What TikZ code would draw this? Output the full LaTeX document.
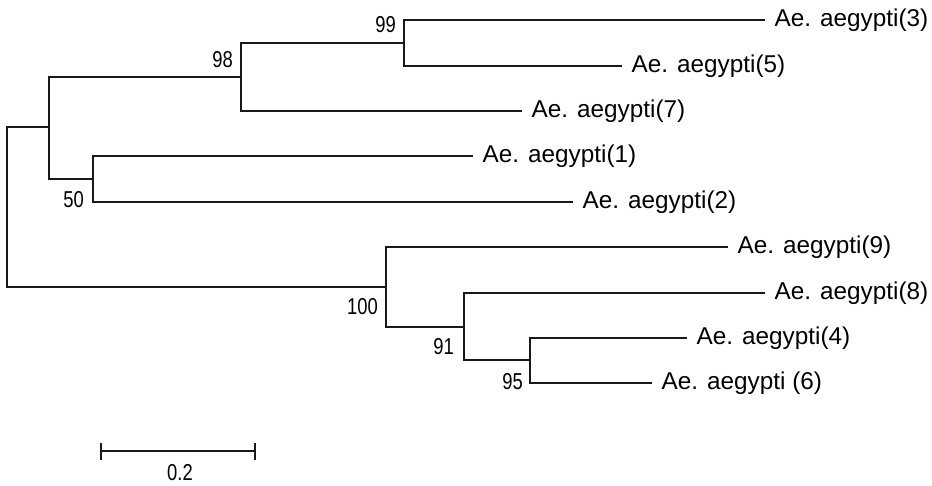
\documentclass[tikz,border=0pt]{standalone}
\usepackage{fontspec}
\setmainfont{Liberation Sans}
\begin{document}
\begin{tikzpicture}[x=1pt,y=-1pt,
  branch/.style={draw=black!90, line width=2pt},
  leaf/.style={anchor=west, inner xsep=9.5pt, font=\fontsize{24.3}{28}\selectfont, text=black},
  boot/.style={anchor=east, inner sep=0pt, font=\fontsize{23}{24}\selectfont, text=black}]
\useasboundingbox (0,0) rectangle (932,485);
% internal nodes
\coordinate (root) at (7,207);
\coordinate (nA)   at (49,127);
\coordinate (n98)  at (241,77);
\coordinate (n99)  at (404,43);
\coordinate (n50)  at (93,179);
\coordinate (n100) at (386,287);
\coordinate (n91)  at (464,327);
\coordinate (n95)  at (530,360);
% leaves
\coordinate (L3) at (765,20);
\coordinate (L5) at (622,66);
\coordinate (L7) at (522,111);
\coordinate (L1) at (473,156);
\coordinate (L2) at (573,202);
\coordinate (L9) at (728,247);
\coordinate (L8) at (765,293);
\coordinate (L4) at (687,338);
\coordinate (L6) at (652,383);
% branches
\draw[branch] (root) |- (nA);
\draw[branch] (root) |- (n100);
\draw[branch] (nA) |- (n98);
\draw[branch] (nA) |- (n50);
\draw[branch] (n98) |- (n99);
\draw[branch] (n98) |- (L7);
\draw[branch] (n99) |- (L3);
\draw[branch] (n99) |- (L5);
\draw[branch] (n50) |- (L1);
\draw[branch] (n50) |- (L2);
\draw[branch] (n100) |- (L9);
\draw[branch] (n100) |- (n91);
\draw[branch] (n91) |- (L8);
\draw[branch] (n91) |- (n95);
\draw[branch] (n95) |- (L4);
\draw[branch] (n95) |- (L6);
% leaf labels
\node[leaf] (t3) at (L3) {Ae. aegypti(3)};
\node[leaf] (t5) at (L5) {Ae. aegypti(5)};
\node[leaf] (t7) at (L7) {Ae. aegypti(7)};
\node[leaf] (t1) at (L1) {Ae. aegypti(1)};
\node[leaf] (t2) at (L2) {Ae. aegypti(2)};
\node[leaf] (t9) at (L9) {Ae. aegypti(9)};
\node[leaf] (t8) at (L8) {Ae. aegypti(8)};
\node[leaf] (t4) at (L4) {Ae. aegypti(4)};
\node[leaf] (t6) at (L6) {Ae. aegypti (6)};
% bootstrap values
\node[boot] (b99)  at (396,25)  {\scalebox{0.8}[1]{99}};
\node[boot] (b98)  at (233,60)  {\scalebox{0.8}[1]{98}};
\node[boot] (b50)  at (84,200)  {\scalebox{0.8}[1]{50}};
\node[boot] (b100) at (378,307) {\scalebox{0.8}[1]{100}};
\node[boot] (b91)  at (454,347) {\scalebox{0.8}[1]{91}};
\node[boot] (b95)  at (523,382) {\scalebox{0.8}[1]{95}};
% scale bar
\coordinate (s1) at (101,451);
\coordinate (s2) at (255,451);
\draw[branch] (s1) -- (s2);
\draw[branch] ([yshift=8pt]s1) -- ([yshift=-9pt]s1);
\draw[branch] ([yshift=8pt]s2) -- ([yshift=-9pt]s2);
\node[inner sep=0pt, font=\fontsize{23}{24}\selectfont, text=black] (sl) at (180,473) {\scalebox{0.8}[1]{0.2}};
\end{tikzpicture}
\end{document}
